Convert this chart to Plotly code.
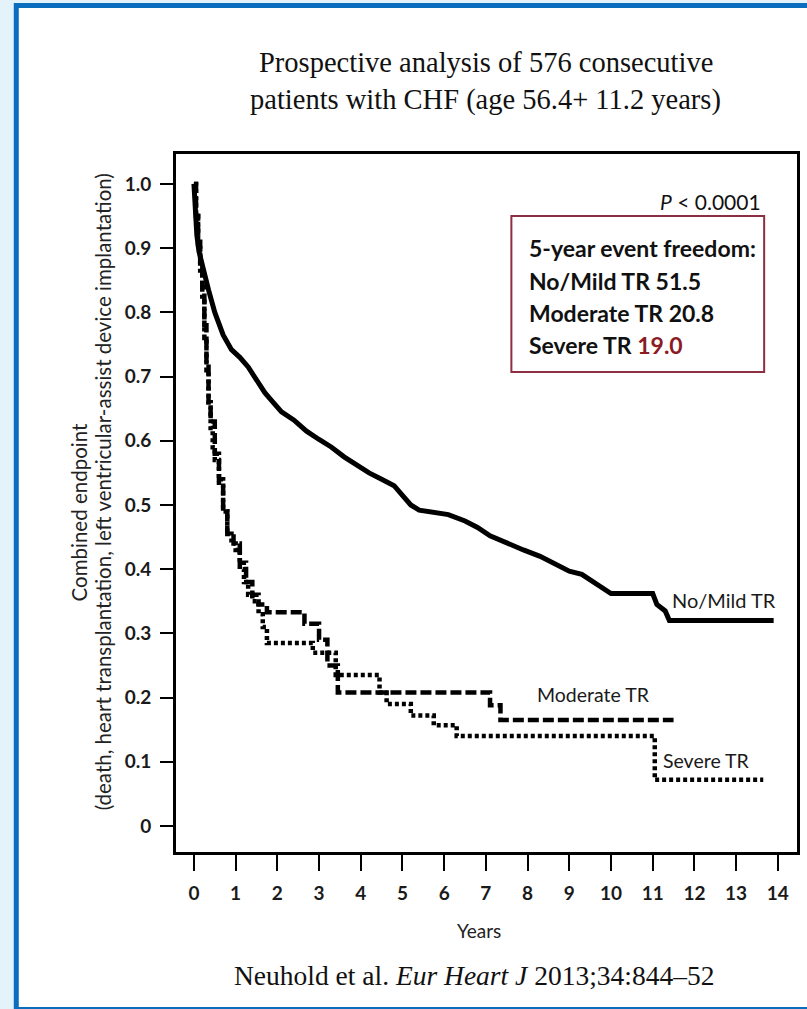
import plotly.graph_objects as go

# ---- Kaplan-Meier style curves (years, event-free proportion) ----
mild_t = [0.0, 0.03, 0.07, 0.12, 0.2, 0.35, 0.5, 0.7, 0.9, 1.1, 1.3, 1.5, 1.7, 1.9,
          2.1, 2.4, 2.7, 3.0, 3.3, 3.6, 3.9, 4.2, 4.5, 4.8, 5.0, 5.2, 5.4, 5.8, 6.1,
          6.5, 6.8, 7.1, 7.5, 7.9, 8.3, 8.6, 9.0, 9.3, 9.6, 9.8, 10.0, 11.0, 11.1,
          11.3, 11.4, 13.9]
mild_v = [1.0, 0.96, 0.92, 0.895, 0.872, 0.835, 0.80, 0.765, 0.742, 0.73, 0.715,
          0.695, 0.675, 0.66, 0.645, 0.632, 0.615, 0.602, 0.59, 0.575, 0.562, 0.55,
          0.54, 0.53, 0.515, 0.50, 0.492, 0.488, 0.485, 0.475, 0.465, 0.452, 0.44,
          0.43, 0.42, 0.41, 0.397, 0.392, 0.38, 0.37, 0.362, 0.362, 0.345, 0.335,
          0.32, 0.32]

moderate_t = [0.0, 0.05, 0.1, 0.15, 0.2, 0.25, 0.3, 0.35, 0.4, 0.5, 0.6, 0.7, 0.8,
              0.95, 1.1, 1.25, 1.4, 1.55, 1.75, 2.65, 3.0, 3.2, 3.45, 7.1, 7.35, 11.5]
moderate_v = [1.0, 0.95, 0.91, 0.87, 0.84, 0.78, 0.72, 0.66, 0.63, 0.58, 0.54, 0.49,
              0.455, 0.44, 0.41, 0.38, 0.36, 0.345, 0.333, 0.315, 0.29, 0.25, 0.208,
              0.188, 0.165, 0.165]

severe_t = [0.0, 0.05, 0.1, 0.15, 0.2, 0.25, 0.3, 0.35, 0.4, 0.45, 0.5, 0.6, 0.7,
            0.8, 0.9, 1.0, 1.1, 1.2, 1.3, 1.4, 1.55, 1.65, 1.75, 2.85, 3.4, 4.45,
            4.62, 5.2, 5.75, 6.3, 11.05, 13.65]
severe_v = [1.0, 0.95, 0.90, 0.86, 0.82, 0.76, 0.71, 0.66, 0.62, 0.59, 0.57, 0.53,
            0.49, 0.46, 0.44, 0.43, 0.40, 0.38, 0.36, 0.35, 0.33, 0.31, 0.285, 0.27,
            0.235, 0.208, 0.19, 0.172, 0.157, 0.14, 0.072, 0.072]

# 5-year event freedom (%) per group
groups = ["No/Mild TR", "Moderate TR", "Severe TR"]
five_year = [51.5, 20.8, 19.0]

x_ticks = list(range(0, 15))
y_ticks = [1.0, 0.9, 0.8, 0.7, 0.6, 0.5, 0.4, 0.3, 0.2, 0.1, 0.0]
y_tick_text = ["1.0", "0.9", "0.8", "0.7", "0.6", "0.5", "0.4", "0.3", "0.2", "0.1", "0"]

# ---- figure geometry (pixels) ----
W, H = 807, 1009
ML, MR, MT, MB = 176, 7, 154, 157
PW, PH = W - ML - MR, H - MT - MB


def px(x):
    return (x - ML) / PW


def py(y):
    return (H - MB - y) / PH


SANS = "Lato"
SERIF = "Liberation Serif"

fig = go.Figure()
fig.add_trace(go.Scatter(x=mild_t, y=mild_v, mode="lines", name=groups[0],
                         line=dict(color="black", width=5)))
fig.add_trace(go.Scatter(x=moderate_t, y=moderate_v, mode="lines", name=groups[1],
                         line=dict(color="black", width=4.5, dash="11px,4px", shape="hv")))
fig.add_trace(go.Scatter(x=severe_t, y=severe_v, mode="lines", name=groups[2],
                         line=dict(color="black", width=4.5, dash="4px,3px", shape="hv")))

axis_common = dict(showline=True, linecolor="black", linewidth=3, mirror=True,
                   showgrid=False, zeroline=False, ticks="outside", tickcolor="black",
                   tickwidth=2)
tick_font = dict(family=SANS, size=19, color="#1a1a1a", weight="bold")

fig.update_xaxes(**axis_common, range=[-0.43, 14.46], tickvals=x_ticks, ticklen=16,
                 ticklabelstandoff=6, tickfont=tick_font)
fig.update_yaxes(**axis_common, range=[-0.0405, 1.0467], tickvals=y_ticks,
                 ticktext=y_tick_text, ticklen=13, ticklabelstandoff=5, tickfont=tick_font)

annotations = [
    dict(text="Prospective analysis of 576 consecutive", x=px(487), y=py(62),
         font=dict(family=SERIF, size=28.5, color="#111111")),
    dict(text="patients with CHF (age 56.4+ 11.2 years)", x=px(487), y=py(100),
         font=dict(family=SERIF, size=28.5, color="#111111")),
    dict(text="Neuhold et al. <i>Eur Heart J</i> 2013;34:844\u201352", x=px(475), y=py(975),
         font=dict(family=SERIF, size=27.5, color="#111111")),
    dict(text="Years", x=px(480), y=py(930),
         font=dict(family=SANS, size=19, color="#222222")),
    dict(text="Combined endpoint", x=px(79), y=py(512), textangle=-90,
         font=dict(family=SANS, size=20.5, color="#222222")),
    dict(text="(death, heart transplantation, left ventricular-assist device implantation)",
         x=px(103), y=py(492), textangle=-90,
         font=dict(family=SANS, size=20.5, color="#222222")),
    dict(text="<i>P</i> < 0.0001", x=px(766), y=py(201), xanchor="right",
         font=dict(family=SANS, size=21, color="#111111")),
    dict(text="<b>5-year event freedom:</b>", x=px(529), y=py(248), xanchor="left",
         font=dict(family=SANS, size=23, color="#111111")),
    dict(text=f"<b>{groups[0]} {five_year[0]:.1f}</b>", x=px(529), y=py(281), xanchor="left",
         font=dict(family=SANS, size=23, color="#111111")),
    dict(text=f"<b>{groups[1]} {five_year[1]:.1f}</b>", x=px(529), y=py(313), xanchor="left",
         font=dict(family=SANS, size=23, color="#111111")),
    dict(text=f"<b>{groups[2]} <span style='color:#8b1c24'>{five_year[2]:.1f}</span></b>",
         x=px(529), y=py(345), xanchor="left",
         font=dict(family=SANS, size=23, color="#111111")),
    dict(text=groups[0], x=px(727), y=py(600),
         font=dict(family=SANS, size=20, color="#1a1a1a")),
    dict(text=groups[1], x=px(596), y=py(694),
         font=dict(family=SANS, size=19.5, color="#1a1a1a")),
    dict(text=groups[2], x=px(709), y=py(760),
         font=dict(family=SANS, size=19.5, color="#1a1a1a")),
]
for a in annotations:
    a.update(xref="paper", yref="paper", showarrow=False)
    a.setdefault("xanchor", "center")
    a.setdefault("yanchor", "middle")

shapes = [
    # white panel with blue frame
    dict(type="rect", xref="paper", yref="paper", layer="below",
         x0=px(15.5), x1=px(860), y0=py(5.5), y1=py(1009.5),
         fillcolor="white", line=dict(color="#0b6dbd", width=5)),
    # framed summary box
    dict(type="rect", xref="paper", yref="paper",
         x0=px(513), x1=px(767), y0=py(216), y1=py(372),
         fillcolor="rgba(0,0,0,0)", line=dict(color="#8c2f42", width=2)),
]

fig.update_layout(
    width=W, height=H,
    margin=dict(l=ML, r=MR, t=MT, b=MB, pad=0),
    paper_bgcolor="#e4f2fa", plot_bgcolor="rgba(0,0,0,0)",
    showlegend=False, annotations=annotations, shapes=shapes,
)

fig.write_html("out.html")
